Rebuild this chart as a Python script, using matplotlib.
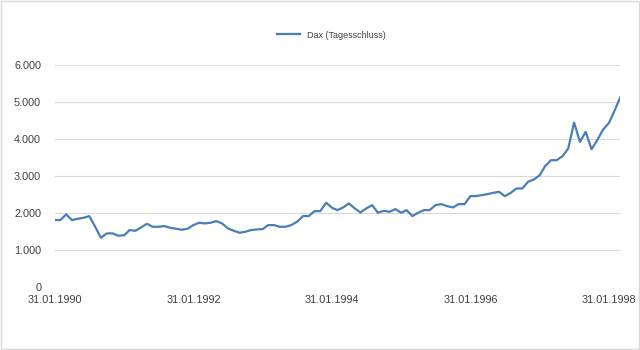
import pandas as pd
import matplotlib
matplotlib.use("Agg")
import matplotlib.pyplot as plt
import matplotlib.dates as mdates
from matplotlib.ticker import FuncFormatter
from matplotlib.patches import Rectangle

# month-end closes, Jan 1990 .. Mar 1998
dates = pd.date_range("1990-01-31", "1998-03-31", freq="ME")
dax_1990 = [1810, 1810, 1963, 1810, 1845, 1872, 1917, 1625, 1332, 1450, 1450, 1386]
dax_1991 = [1400, 1539, 1520, 1611, 1710, 1629, 1629, 1647, 1602, 1575, 1548, 1575]
dax_1992 = [1674, 1737, 1719, 1737, 1782, 1719, 1584, 1521, 1467, 1494, 1539, 1557]
dax_1993 = [1566, 1674, 1674, 1629, 1629, 1674, 1764, 1917, 1917, 2052, 2052, 2277]
dax_1994 = [2142, 2079, 2151, 2259, 2124, 2016, 2124, 2214, 2007, 2061, 2034, 2106]
dax_1995 = [2007, 2079, 1917, 2007, 2079, 2079, 2214, 2241, 2187, 2151, 2241, 2241]
dax_1996 = [2457, 2457, 2484, 2511, 2547, 2574, 2457, 2547, 2664, 2664, 2844, 2907]
dax_1997 = [3024, 3267, 3429, 3429, 3537, 3744, 4446, 3924, 4194, 3726, 3969, 4257]
dax_1998 = [4437, 4752, 5122]
dax = (dax_1990 + dax_1991 + dax_1992 + dax_1993 + dax_1994 + dax_1995
       + dax_1996 + dax_1997 + dax_1998)

tick_dates = pd.to_datetime(["1990-01-31", "1992-01-31", "1994-01-31", "1996-01-31", "1998-01-31"])
y_ticks = [0, 1000, 2000, 3000, 4000, 5000, 6000]

plt.rcParams["font.family"] = ["Liberation Sans", "DejaVu Sans"]

fig = plt.figure(figsize=(6.4, 3.5), dpi=100)
ax = fig.add_axes([0.086, 0.18, 0.883, 0.634])

line, = ax.plot(dates, dax, color="#4A7EBB", linewidth=1.6, label="Dax (Tagesschluss)")

ax.set_xlim(dates[0], dates[-1])
ax.set_ylim(0, 6000)
ax.set_yticks(y_ticks)
ax.yaxis.set_major_formatter(FuncFormatter(lambda v, p: f"{int(v):,}".replace(",", ".")))
ax.set_xticks(tick_dates)
ax.xaxis.set_major_formatter(mdates.DateFormatter("%d.%m.%Y"))

ax.grid(axis="y", color="#D9D9D9", linewidth=0.8)
ax.set_axisbelow(True)
for s in ["top", "right", "left", "bottom"]:
    ax.spines[s].set_visible(False)
ax.tick_params(length=0, labelsize=7.8, colors="#404040", pad=6)
ax.tick_params(axis="y", pad=10)

fig.legend(handles=[line], loc="center", bbox_to_anchor=(0.518, 0.9), frameon=False,
           fontsize=6.5, handlelength=2.6, labelcolor="#404040")

fig.add_artist(Rectangle((0.001, 0.002), 0.997, 0.995, transform=fig.transFigure,
                         fill=False, edgecolor="#D9D9D9", linewidth=1))

fig.savefig("out.png", dpi=100)
